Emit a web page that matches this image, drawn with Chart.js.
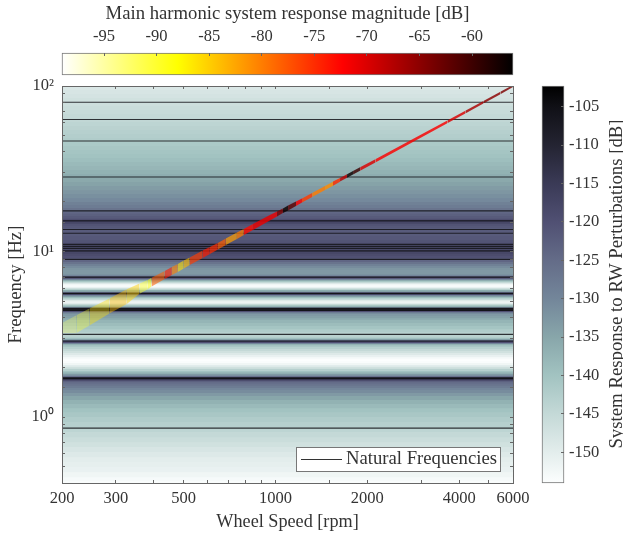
<!DOCTYPE html>
<html>
<head>
<meta charset="utf-8">
<title>Wheel speed response</title>
<script src="https://cdn.jsdelivr.net/npm/chart.js@4"></script>
<style>
  html, body { margin: 0; padding: 0; background: #fff; }
  canvas { position: absolute; }
</style>
</head>
<body>
<canvas id="mainChart" width="623" height="533" style="left:0;top:0"></canvas>
<canvas id="topBar" width="623" height="78" style="left:0;top:0"></canvas>
<canvas id="rightBar" width="93" height="533" style="left:530px;top:0"></canvas>
<script>
// Background response, one row per frequency band, read top to bottom
const rowFreq = [100, 94.6, 89.5, 84.6, 80.0, 75.7, 71.6, 67.7, 64.1, 60.6, 57.3, 54.2, 51.3, 48.5, 45.9, 43.4, 41.0, 38.8, 36.7, 34.7, 32.9, 31.1, 29.4, 27.8, 26.3, 24.9, 23.5, 22.3, 21.0, 19.9, 19.1, 18.3, 17.8, 17.3, 16.9, 16.4, 15.9, 15.7, 15.5, 15.3, 15.1, 14.7, 14.3, 13.9, 13.1, 12.4, 11.7, 11.3, 10.9, 10.6, 10.35, 10.07, 9.93, 9.66, 9.39, 9.13, 8.88, 8.64, 8.40, 8.17, 7.95, 7.73, 7.52, 7.31, 7.21, 7.11, 7.01, 6.92, 6.82, 6.73, 6.63, 6.54, 6.45, 6.36, 6.27, 6.19, 6.10, 6.02, 5.93, 5.85, 5.77, 5.69, 5.61, 5.54, 5.46, 5.38, 5.31, 5.24, 5.16, 5.09, 5.02, 4.95, 4.88, 4.82, 4.75, 4.68, 4.62, 4.56, 4.49, 4.43, 4.37, 4.31, 4.25, 4.19, 4.08, 3.96, 3.86, 3.70, 3.55, 3.40, 3.26, 3.22, 3.13, 3.04, 3.00, 2.96, 2.92, 2.88, 2.84, 2.80, 2.76, 2.72, 2.65, 2.58, 2.51, 2.44, 2.37, 2.30, 2.24, 2.18, 2.12, 2.06, 2.00, 1.95, 1.90, 1.87, 1.84, 1.82, 1.79, 1.77, 1.74, 1.72, 1.70, 1.67, 1.65, 1.63, 1.60, 1.58, 1.54, 1.50, 1.46, 1.40, 1.34, 1.27, 1.20, 1.13, 1.07, 1.00, 0.933, 0.870, 0.812, 0.757, 0.706, 0.659, 0.615, 0.573, 0.535, 0.499, 0.465, 0.434, 0.411];
const rowDb = [-148.5, -148, -147.5, -147, -146.5, -146, -145.5, -145, -144.5, -144, -143.5, -143, -142.5, -142, -141.5, -141, -140.5, -140, -139.3, -138.5, -137.8, -137, -136.2, -135.5, -134.5, -133.5, -132.5, -131.5, -130.5, -129, -128, -126.5, -125, -124, -123, -122, -121, -119, -116, -115, -118, -120.5, -121.5, -122, -122, -121.5, -120.5, -120, -119.5, -119, -118, -117, -118, -119, -120, -122, -124, -126.5, -129, -131, -132.5, -133, -133, -132, -130, -124, -118, -122, -130, -136, -141, -145, -149, -152, -153, -153, -151, -147, -142, -136, -134, -124, -110, -118, -130, -135, -139, -143, -146, -149, -151, -151.5, -149, -145, -141, -136, -130, -112, -108, -106, -120, -128, -131, -133, -134, -136, -137.5, -139, -140.5, -142, -143.5, -144, -143.5, -142, -139, -134, -127, -117, -120, -130, -137, -141, -143, -145, -147, -149, -151, -153, -154, -153.5, -152, -149, -146, -143, -140, -138, -136, -133, -131, -126, -116, -106, -114, -121, -123, -125, -126, -127, -128, -130, -131, -133, -135, -137, -138.5, -140, -141, -142, -143, -144, -145, -146, -147, -148, -149, -150, -150.5, -151, -152, -153, -153.5];

// Natural frequencies [Hz]
const naturalFreq = [79.7, 62.8, 46.5, 28.2, 17.6, 15.35, 13.6, 12.9, 11.05, 10.75, 10.45, 10.1, 8.97, 7.01, 5.59, 4.54, 4.43, 3.16, 2.88, 1.73, 0.858];

// Main harmonic strip: wheel speed, strip edges [Hz] and magnitude [dB]
const stripRpm = [200, 223, 246, 286, 326, 359, 382, 393, 434, 458, 479, 501, 524, 578, 610, 648, 688, 748, 788, 844, 959, 1012, 1058, 1100, 1168, 1222, 1319, 1454, 1544, 1628, 1717, 1796, 1894, 2125, 2982, 3656, 4188, 4800, 5456, 6000];
const stripHigh = [3.70, 4.13, 4.53, 5.21, 5.93, 6.41, 6.73, 6.95, 7.62, 8.06, 8.40, 8.82, 9.20, 10.14, 10.65, 11.26, 11.98, 13.03, 13.68, 14.66, 16.6, 17.45, 18.2, 18.97, 20.05, 20.9, 22.57, 24.88, 26.45, 27.8, 29.3, 30.65, 32.3, 36.1, 50.65, 61.95, 71.0, 81.2, 92.3, 101.4];
const stripLow = [3.22, 3.22, 3.57, 4.22, 4.82, 5.57, 5.93, 6.15, 6.82, 7.21, 7.52, 7.90, 8.29, 9.13, 9.66, 10.28, 10.95, 11.9, 12.58, 13.49, 15.4, 16.28, 17.1, 17.69, 18.84, 19.77, 21.35, 23.54, 25.0, 26.45, 27.9, 29.2, 30.8, 34.45, 48.6, 59.6, 68.3, 78.3, 89.2, 98.5];
const stripDb = [-92, -90, -86, -84, -85, -90, -88, -78, -74, -80, -86, -84, -76, -74, -75, -78, -82, -80, -73, -71, -71, -64, -57, -62, -72, -76, -80, -81, -75, -68, -57, -60, -70, -72, -72, -70, -67, -65, -64, -64];

const xTickLabels = [200, 300, 500, 1000, 2000, 4000, 6000];
const yTickValues = [1, 10, 100];
const yTickLabels = ["10\u2070", "10\u00b9", "10\u00b2"];
const topBarTicks = [-95, -90, -85, -80, -75, -70, -65, -60];
const rightBarTicks = [-105, -110, -115, -120, -125, -130, -135, -140, -145, -150];

const legendLabel = "Natural Frequencies";
const topBarTitle = "Main harmonic system response magnitude [dB]";
const rightBarTitle = "System Response to RW Perturbations [dB]";

// Colormaps
const boneDb = [-154, -150, -145, -140, -135, -130, -125, -120, -115, -110, -105, -102.3];
const boneRgb = [[252,254,254], [227,237,236], [196,217,215], [162,195,193], [136,166,170], [115,134,154], [100,108,136], [80,80,115], [58,58,86], [36,36,50], [16,16,22], [0,0,0]];
const hotDb = [-99, -88, -72.3, -56.1];
const hotRgb = [[255,255,255], [255,255,0], [255,0,0], [0,0,0]];

const TEXT = "#333333";
const AXIS = "#666666";
const SERIF = "'Liberation Serif', serif";

function mapColor(dbList, rgbList, db, alpha) {
  let i = 0;
  while (i < dbList.length - 2 && db > dbList[i + 1]) i++;
  const t = Math.min(1, Math.max(0, (db - dbList[i]) / (dbList[i + 1] - dbList[i])));
  const c = rgbList[i].map((v, k) => Math.round(v + (rgbList[i + 1][k] - v) * t));
  return `rgba(${c[0]},${c[1]},${c[2]},${alpha === undefined ? 1 : alpha})`;
}

// the strip is see-through at low speed and for quiet values
function stripColor(db, rpm) {
  const alpha = Math.min(0.82, 0.3 + 0.65 * Math.log10(rpm / 200) + (db + 92) * 0.006);
  return mapColor(hotDb, hotRgb, db, alpha);
}

const stripSegment = (ctx) => stripColor(stripDb[ctx.p0DataIndex], stripRpm[ctx.p0DataIndex]);

let datasets = [];

// background: paint from the highest frequency down
rowFreq.forEach((f, i) => {
  datasets.push({
    data: [{ x: 200, y: f }, { x: 6000, y: f }],
    borderWidth: 0,
    pointRadius: 0,
    fill: "start",
    backgroundColor: mapColor(boneDb, boneRgb, rowDb[i]),
    order: 1000 - i,
  });
});

naturalFreq.forEach((f) => {
  datasets.push({
    data: [{ x: 200, y: f }, { x: 6000, y: f }],
    borderColor: "rgba(20,20,25,0.85)",
    borderWidth: 1.1,
    pointRadius: 0,
    fill: false,
    order: 2,
  });
});

datasets.push({
  data: stripRpm.map((r, i) => ({ x: r, y: stripHigh[i] })),
  borderWidth: 0,
  pointRadius: 0,
  fill: "+1",
  backgroundColor: stripColor(-72, 1000),
  segment: { backgroundColor: stripSegment, borderColor: "rgba(0,0,0,0)" },
  order: 1,
});
datasets.push({
  data: stripRpm.map((r, i) => ({ x: r, y: stripLow[i] })),
  borderWidth: 0,
  pointRadius: 0,
  fill: false,
  order: 1,
});

const legendBox = {
  id: "legendBox",
  afterDraw(chart) {
    const c = chart.ctx;
    c.save();
    c.fillStyle = "#fff";
    c.strokeStyle = "#777";
    c.lineWidth = 1;
    c.fillRect(296.5, 447.5, 204, 24);
    c.strokeRect(296.5, 447.5, 204, 24);
    c.strokeStyle = "#333";
    c.beginPath();
    c.moveTo(301, 459.5);
    c.lineTo(342, 459.5);
    c.stroke();
    c.fillStyle = TEXT;
    c.font = "18.7px " + SERIF;
    c.textBaseline = "middle";
    c.fillText(legendLabel, 346, 459);
    c.restore();
  },
};

const gridStyle = { drawOnChartArea: false, tickLength: -3, color: AXIS, z: 1 };
const borderStyle = { color: AXIS, width: 1, z: 1 };

new Chart(document.getElementById("mainChart"), {
  type: "line",
  data: { datasets: datasets },
  plugins: [legendBox],
  options: {
    responsive: false,
    animation: false,
    events: [],
    layout: { autoPadding: false, padding: { left: 0, top: 86, right: 110, bottom: 0 } },
    plugins: { legend: { display: false }, tooltip: { enabled: false } },
    scales: {
      x: {
        type: "logarithmic",
        min: 200,
        max: 6000,
        afterFit: (s) => { s.height = 50; },
        grid: gridStyle,
        border: borderStyle,
        title: { display: true, text: "Wheel Speed [rpm]", color: TEXT, font: { family: SERIF, size: 18.2 }, padding: { top: 0, bottom: 0 } },
        ticks: {
          autoSkip: false,
          maxRotation: 0,
          minRotation: 0,
          color: TEXT,
          padding: 9,
          font: { family: SERIF, size: 16.5 },
          callback: (v) => (xTickLabels.includes(Math.round(v)) ? String(Math.round(v)) : ""),
        },
      },
      y: {
        type: "logarithmic",
        min: 0.4,
        max: 100,
        afterFit: (s) => { s.width = 62; },
        grid: gridStyle,
        border: borderStyle,
        title: { display: true, text: "Frequency [Hz]", color: TEXT, font: { family: SERIF, size: 18.7 }, padding: { top: 5, bottom: 0 } },
        ticks: {
          autoSkip: false,
          color: TEXT,
          padding: 11,
          font: { family: SERIF, size: 16.5 },
          callback: (v) => {
            const i = yTickValues.findIndex((t) => Math.abs(t - v) < 1e-6);
            return i >= 0 ? yTickLabels[i] : "";
          },
        },
      },
      xTop: {
        type: "logarithmic",
        position: "top",
        min: 200,
        max: 6000,
        afterFit: (s) => { s.height = 0; },
        grid: gridStyle,
        border: borderStyle,
        ticks: { display: false },
      },
      yRight: {
        type: "logarithmic",
        position: "right",
        min: 0.4,
        max: 100,
        afterFit: (s) => { s.width = 0; },
        grid: gridStyle,
        border: borderStyle,
        ticks: { display: false },
      },
    },
  },
});

// Colour bars: one floating bar with the colormap as its fill
function barGradient(chart, scaleId, dbList, rgbList) {
  const scale = chart.scales[scaleId];
  if (!chart.chartArea || !scale) return "#888";
  const p0 = scale.getPixelForValue(dbList[0]);
  const p1 = scale.getPixelForValue(dbList[dbList.length - 1]);
  const g = scaleId === "x"
    ? chart.ctx.createLinearGradient(p0, 0, p1, 0)
    : chart.ctx.createLinearGradient(0, p0, 0, p1);
  dbList.forEach((db, i) => {
    g.addColorStop((db - dbList[0]) / (dbList[dbList.length - 1] - dbList[0]), mapColor(dbList, rgbList, db));
  });
  return g;
}

new Chart(document.getElementById("topBar"), {
  type: "bar",
  data: {
    labels: [""],
    datasets: [{
      data: [[-99, -56.1]],
      barPercentage: 1,
      categoryPercentage: 1,
      borderSkipped: false,
      borderWidth: 1,
      borderColor: "#777",
      clip: false,
      backgroundColor: (ctx) => barGradient(ctx.chart, "x", hotDb, hotRgb),
    }],
  },
  options: {
    indexAxis: "y",
    responsive: false,
    animation: false,
    events: [],
    layout: { autoPadding: false, padding: { left: 62, right: 110, top: 0, bottom: 3 } },
    plugins: { legend: { display: false }, tooltip: { enabled: false } },
    scales: {
      y: { display: false },
      x: {
        type: "linear",
        position: "top",
        min: -99,
        max: -56.1,
        afterBuildTicks: (s) => { s.ticks = topBarTicks.map((v) => ({ value: v })); },
        afterFit: (s) => { s.height = 53; },
        grid: gridStyle,
        border: { display: false },
        title: { display: true, text: topBarTitle, color: TEXT, font: { family: SERIF, size: 18.7 }, padding: { top: 3, bottom: 0 } },
        ticks: { color: TEXT, padding: 9, maxRotation: 0, font: { family: SERIF, size: 16.5 }, callback: (v) => String(v) },
      },
    },
  },
});

const rightTitle = {
  id: "rightTitle",
  afterDraw(chart) {
    const c = chart.ctx;
    c.save();
    c.translate(87, 284);
    c.rotate(-Math.PI / 2);
    c.fillStyle = TEXT;
    c.font = "18.8px " + SERIF;
    c.textAlign = "center";
    c.textBaseline = "middle";
    c.fillText(rightBarTitle, 0, 0);
    c.restore();
  },
};

new Chart(document.getElementById("rightBar"), {
  type: "bar",
  data: {
    labels: [""],
    datasets: [{
      data: [[-154, -102.3]],
      barPercentage: 1,
      categoryPercentage: 1,
      borderSkipped: false,
      borderWidth: 1,
      borderColor: "#777",
      clip: false,
      backgroundColor: (ctx) => barGradient(ctx.chart, "y", boneDb, boneRgb),
    }],
  },
  plugins: [rightTitle],
  options: {
    responsive: false,
    animation: false,
    events: [],
    layout: { autoPadding: false, padding: { left: 12, right: 0, top: 86, bottom: 50 } },
    plugins: { legend: { display: false }, tooltip: { enabled: false } },
    scales: {
      x: { display: false },
      y: {
        type: "linear",
        position: "right",
        min: -154,
        max: -102.3,
        afterBuildTicks: (s) => { s.ticks = rightBarTicks.map((v) => ({ value: v })); },
        afterFit: (s) => { s.width = 59; },
        grid: gridStyle,
        border: { display: false },
        ticks: { color: TEXT, padding: 8, font: { family: SERIF, size: 16.5 }, callback: (v) => String(v) },
      },
    },
  },
});
</script>
</body>
</html>
